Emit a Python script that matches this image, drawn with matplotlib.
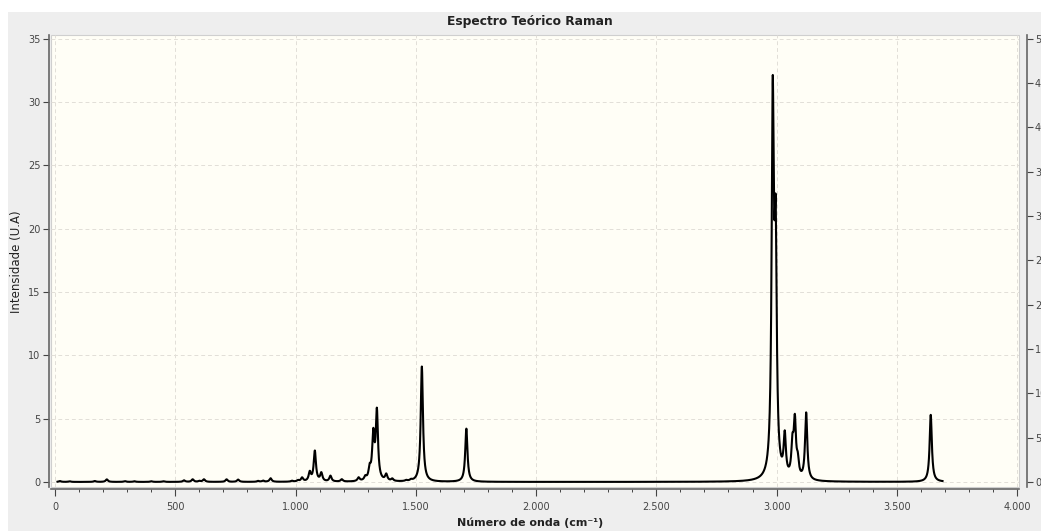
import numpy as np
import matplotlib
matplotlib.use("Agg")
import matplotlib.pyplot as plt
from matplotlib.patches import Rectangle
from matplotlib.ticker import FuncFormatter, MultipleLocator

# ---- data: Raman lines (cm^-1, intensity) ----
peak_pos = [20, 60, 165, 215, 290, 330, 400, 450, 536, 572, 600, 619, 713, 761,
            844, 865, 896, 985, 1010, 1027, 1059, 1080, 1107, 1145, 1192, 1262,
            1290, 1308, 1323, 1338, 1377, 1402, 1460, 1480, 1525, 1710,
            2984, 2996, 3034, 3066, 3076, 3088, 3123, 3641]
peak_int = [0.07, 0.05, 0.07, 0.2, 0.06, 0.05, 0.05, 0.05, 0.12, 0.2, 0.07, 0.2, 0.2, 0.18,
            0.07, 0.09, 0.28, 0.07, 0.1, 0.3, 0.7, 2.4, 0.65, 0.45, 0.18, 0.28,
            0.28, 0.85, 3.5, 5.4, 0.5, 0.18, 0.07, 0.09, 9.1, 4.2,
            29.0, 17.4, 3.2, 2.4, 4.3, 1.2, 5.3, 5.3]
fwhm = 11.0
x_start, x_end = 10, 3690

x_ticks = [0, 500, 1000, 1500, 2000, 2500, 3000, 3500, 4000]
y_ticks_left = [0, 5, 10, 15, 20, 25, 30, 35]
y_ticks_right = [0, 5, 10, 15, 20, 25, 30, 35, 40, 45, 50]

title = "Espectro Teórico Raman"
xlabel = "Número de onda (cm⁻¹)"
ylabel = "Intensidade (U.A)"

# ---- spectrum (Lorentzian broadening of the lines) ----
wn = np.linspace(x_start, x_end, 8000)
spec = np.zeros_like(wn)
for p, h in zip(peak_pos, peak_int):
    spec += h / (1.0 + (2.0 * (wn - p) / fwhm) ** 2)

W, H = 1041, 531
fig = plt.figure(figsize=(W / 100, H / 100), dpi=100, facecolor="white")
plt.rcParams['font.family'] = ['DejaVu Sans']

# gray panel
fig.patches.append(Rectangle((8 / W, 0), 1, (H - 12) / H, transform=fig.transFigure,
                             facecolor="#eeeeee", edgecolor="none", zorder=-10))

L, R, T, B = 51, 1019, 35, 487
ax = fig.add_axes([L / W, (H - B) / H, (R - L) / W, (B - T) / H])
ax.set_facecolor("#fffef6")
ax.plot(wn, spec, color="black", lw=1.5, zorder=3)

ax.set_xlim(-17, 4008)
ylo, yhi = -0.4, 35.3
ax.set_ylim(ylo, yhi)

ax.set_xticks(x_ticks)
ax.xaxis.set_minor_locator(MultipleLocator(100))
ax.xaxis.set_major_formatter(FuncFormatter(lambda v, p: f"{int(v):,}".replace(",", ".")))
ax.set_yticks(y_ticks_left)
ax.grid(True, which="major", color="#e2dfd8", linestyle=(0, (4, 3)), linewidth=0.7)

for s in ["top", "right"]:
    ax.spines[s].set_visible(False)
ax.spines["left"].set_position(("outward", 1.5))
ax.spines["bottom"].set_position(("outward", 1.5))
for s in ["left", "bottom"]:
    ax.spines[s].set_color("#666666")
    ax.spines[s].set_linewidth(1.2)
ax.add_patch(Rectangle((0, 0), 1, 1, transform=ax.transAxes, fill=False,
                       edgecolor="#cfcfcf", lw=0.8, clip_on=False, zorder=1))

ax.tick_params(axis="both", which="major", labelsize=7, colors="#444444",
               length=4, width=0.8, pad=2)
ax.tick_params(axis="x", which="major", length=5, pad=4)
ax.tick_params(axis="x", which="minor", length=2.5, width=0.7, colors="#444444")

ax2 = ax.twinx()
ax2.set_ylim(ylo * 50 / 35, yhi * 50 / 35)
ax2.set_yticks(y_ticks_right)
for s in ["top", "left", "bottom"]:
    ax2.spines[s].set_visible(False)
ax2.spines["right"].set_position(("outward", 5.5))
ax2.spines["right"].set_color("#666666")
ax2.spines["right"].set_linewidth(1.2)
ax2.tick_params(axis="y", labelsize=7, colors="#444444", length=4, width=0.8, pad=2)

fig.text(530 / W, 1 - 22 / H, title, ha="center", va="center", fontsize=8.8,
         fontweight="bold", color="#222222")
fig.text(530 / W, 1 - 523 / H, xlabel, ha="center", va="center", fontsize=8,
         fontweight="bold", color="#222222")
fig.text(17 / W, 1 - 262 / H, ylabel, ha="center", va="center", fontsize=8.5,
         rotation=90, color="#222222")

fig.savefig("out.png", dpi=100)
